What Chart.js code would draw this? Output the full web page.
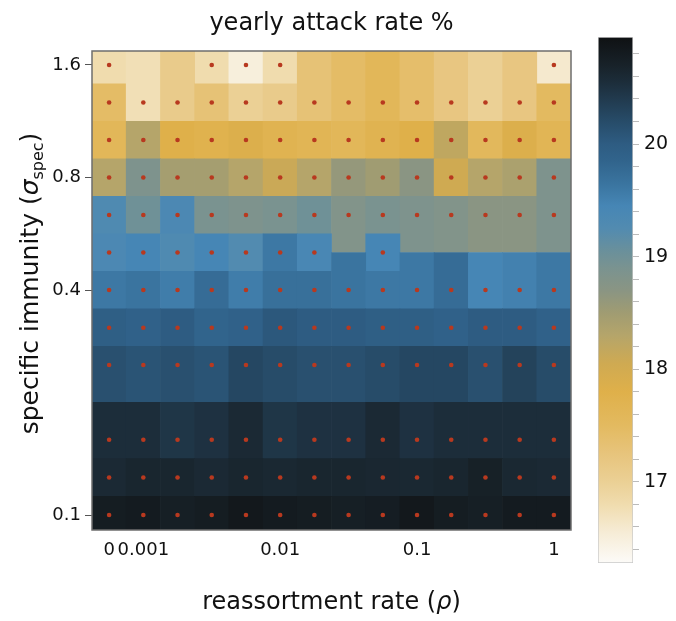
<!DOCTYPE html>
<html>
<head>
<meta charset="utf-8">
<script src="https://cdn.jsdelivr.net/npm/chart.js@4.4.1/dist/chart.umd.min.js"></script>
<style>
  html, body { margin: 0; padding: 0; background: #fff; }
  #wrap { position: relative; width: 676px; height: 621px; }
  #main { position: absolute; left: 0; top: 0; }
  #legendbar { position: absolute; left: 590px; top: 0; }
</style>
</head>
<body>
<div id="wrap">
  <canvas id="main" width="676" height="621"></canvas>
  <canvas id="legendbar" width="86" height="621"></canvas>
</div>
<script>
// reassortment rate (categories, log spaced, plus 0)
var rho = ['0', '0.001', '0.00178', '0.00316', '0.00562', '0.01', '0.0178', '0.0316', '0.0562', '0.1', '0.178', '0.316', '0.562', '1'];
var rhoTicks = ['0', '0.001', '0.01', '0.1', '1'];
// specific immunity rows, bottom to top
var sigma = [0.1, 0.126, 0.159, 0.2, 0.252, 0.317, 0.4, 0.504, 0.635, 0.8, 1.008, 1.27, 1.6];
var sigmaTicks = [0.1, 0.4, 0.8, 1.6];

// yearly attack rate %, one row per sigma (bottom to top), null = no run
var attackRate = [
  [20.78, 20.80, 20.75, 20.78, 20.85, 20.80, 20.78, 20.75, 20.77, 20.85, 20.78, 20.75, 20.80, 20.80],
  [20.60, 20.65, 20.65, 20.60, 20.65, 20.62, 20.65, 20.65, 20.63, 20.62, 20.65, 20.72, 20.62, 20.60],
  [20.55, 20.55, 20.45, 20.50, 20.60, 20.45, 20.50, 20.50, 20.60, 20.50, 20.55, 20.55, 20.55, 20.55],
  [null, null, null, null, null, null, null, null, null, null, null, null, null, null],
  [20.15, 20.10, 20.15, 20.10, 20.25, 20.20, 20.15, 20.15, 20.20, 20.25, 20.25, 20.15, 20.30, 20.20],
  [19.95, 19.90, 20.00, 19.85, 19.90, 20.05, 20.00, 20.00, 19.95, 19.95, 19.90, 20.00, 20.00, 19.90],
  [19.60, 19.65, 19.55, 19.75, 19.55, 19.70, 19.70, 19.65, 19.60, 19.60, 19.75, 19.45, 19.50, 19.60],
  [19.35, 19.45, 19.30, 19.45, 19.25, 19.60, 19.40, null, 19.45, null, null, null, null, null],
  [19.30, 19.00, 19.35, 18.90, 18.85, 18.90, 19.00, 18.80, 18.90, 18.85, 18.80, 18.70, 18.70, 18.85],
  [18.30, 18.85, 18.45, 18.45, 18.30, 18.10, 18.30, 18.60, 18.50, 18.70, 18.05, 18.30, 18.40, 18.85],
  [17.60, 18.30, 17.80, 17.75, 17.85, 17.70, 17.65, 17.60, 17.70, 17.80, 18.20, 17.55, 17.85, 17.65],
  [17.45, 16.75, 17.10, 17.30, 17.00, 17.10, 17.30, 17.45, 17.60, 17.40, 17.20, 17.00, 17.20, 17.50],
  [16.80, null, null, 16.80, 16.50, 16.80, null, null, null, null, null, null, null, 16.60]
];

// colour scale (value -> colour)
var cbValues = [16.28, 16.55, 16.80, 17.00, 17.25, 17.50, 17.80, 18.05, 18.30, 18.50, 18.70, 18.90, 19.05, 19.25, 19.45, 19.65, 19.85, 20.00, 20.20, 20.40, 20.55, 20.70, 20.95];
var cbColors = ['#fcfbf8', '#f6ecd6', '#f0dcae', '#ebd095', '#e7c47c', '#e3ba60', '#dfb04a', '#cfaa52', '#b5a56a', '#a09c72', '#8a9583', '#7a9390', '#6a909b', '#528bb0', '#4686b5', '#3a749f', '#31648c', '#2e5c82', '#274c69', '#213a4e', '#1c2d3a', '#182229', '#0f1113'];
var cbTicks = [17, 18, 19, 20];
var cbMin = 16.28, cbMax = 20.95;

var yMin = 0.0912, yMax = 1.744;
var fontFamily = 'DejaVu Sans';
Chart.defaults.font.family = fontFamily;

function hexToRgb(h) {
  return [parseInt(h.substr(1, 2), 16), parseInt(h.substr(3, 2), 16), parseInt(h.substr(5, 2), 16)];
}

function colorFor(v) {
  if (v <= cbValues[0]) return cbColors[0];
  for (var i = 1; i < cbValues.length; i++) {
    if (v <= cbValues[i]) {
      var t = (v - cbValues[i - 1]) / (cbValues[i] - cbValues[i - 1]);
      var a = hexToRgb(cbColors[i - 1]), b = hexToRgb(cbColors[i]);
      return 'rgb(' + Math.round(a[0] + (b[0] - a[0]) * t) + ',' + Math.round(a[1] + (b[1] - a[1]) * t) + ',' + Math.round(a[2] + (b[2] - a[2]) * t) + ')';
    }
  }
  return cbColors[cbColors.length - 1];
}

// each cell reaches halfway (in log space) to the next sampled row of its column
function cellRange(k, c) {
  var below = -1, above = -1, j;
  for (j = k - 1; j >= 0; j--) if (attackRate[j][c] != null) { below = j; break; }
  for (j = k + 1; j < sigma.length; j++) if (attackRate[j][c] != null) { above = j; break; }
  var lo = below < 0 ? yMin : Math.sqrt(sigma[below] * sigma[k]);
  var hi = above < 0 ? yMax : Math.sqrt(sigma[above] * sigma[k]);
  return [lo, hi];
}

var datasets = [];
var dots = [];
for (var k = 0; k < sigma.length; k++) {
  var cells = [], colors = [];
  for (var c = 0; c < rho.length; c++) {
    var v = attackRate[k][c];
    if (v == null) continue;
    cells.push({ x: rho[c], y: cellRange(k, c) });
    colors.push(colorFor(v));
    dots.push({ x: rho[c], y: sigma[k] });
  }
  if (cells.length) {
    datasets.push({ type: 'bar', data: cells, backgroundColor: colors, borderWidth: 0, order: 1 });
  }
}
datasets.push({
  type: 'scatter', data: dots, order: 0,
  pointRadius: 2.3, pointHoverRadius: 2.3, pointBorderWidth: 0,
  pointBackgroundColor: '#b8391f', backgroundColor: '#b8391f'
});

function drawPieces(ctx, pieces, cx, cy) {
  var total = 0;
  pieces.forEach(function (p) { ctx.font = p.font; total += ctx.measureText(p.text).width; });
  var x = cx - total / 2;
  pieces.forEach(function (p) {
    ctx.font = p.font;
    ctx.fillText(p.text, x, cy + (p.dy || 0));
    x += ctx.measureText(p.text).width;
  });
}

var textPlugin = {
  id: 'texts',
  afterDatasetsDraw: function (chart) {
    var a = chart.chartArea, ctx = chart.ctx;
    ctx.save();
    ctx.strokeStyle = '#6e6e6e';
    ctx.lineWidth = 1.5;
    ctx.strokeRect(a.left, a.top, a.right - a.left, a.bottom - a.top);
    ctx.restore();
  },
  afterDraw: function (chart) {
    var a = chart.chartArea, ctx = chart.ctx;
    var mid = (a.left + a.right) / 2;
    ctx.save();
    ctx.fillStyle = '#111';
    ctx.textBaseline = 'alphabetic';
    ctx.textAlign = 'left';
    drawPieces(ctx, [{ text: 'yearly attack rate %', font: '24px ' + fontFamily }], mid, 30);
    drawPieces(ctx, [
      { text: 'reassortment rate (', font: '24px ' + fontFamily },
      { text: 'ρ', font: 'italic 24px ' + fontFamily },
      { text: ')', font: '24px ' + fontFamily }
    ], mid, 609);
    ctx.translate(38, (a.top + a.bottom) / 2 - 7);
    ctx.rotate(-Math.PI / 2);
    drawPieces(ctx, [
      { text: 'specific immunity (', font: '25px ' + fontFamily },
      { text: 'σ', font: 'italic 25px ' + fontFamily },
      { text: 'spec', font: '16px ' + fontFamily, dy: 5 },
      { text: ')', font: '25px ' + fontFamily }
    ], 0, 0);
    ctx.restore();
  }
};

new Chart(document.getElementById('main'), {
  type: 'bar',
  data: { labels: rho, datasets: datasets },
  options: {
    responsive: false,
    animation: false,
    layout: { padding: { top: 51, right: 105, left: 0, bottom: 0 } },
    datasets: { bar: { grouped: false, barPercentage: 1, categoryPercentage: 1 } },
    plugins: { legend: { display: false }, tooltip: { enabled: false }, title: { display: false } },
    scales: {
      x: {
        type: 'category',
        offset: true,
        grid: { display: false, drawTicks: false },
        border: { display: false },
        ticks: {
          autoSkip: false, maxRotation: 0, padding: 10, color: '#111',
          font: { size: 18 },
          callback: function (value) {
            var l = this.getLabelForValue(value);
            return rhoTicks.indexOf(l) >= 0 ? l : '';
          }
        },
        afterFit: function (s) { s.height = 91; }
      },
      y: {
        type: 'logarithmic',
        min: yMin, max: yMax,
        afterBuildTicks: function (s) {
          s.ticks = sigmaTicks.map(function (v) { return { value: v }; });
        },
        grid: { drawOnChartArea: false, drawTicks: true, tickLength: 7, color: '#555', tickColor: '#555' },
        border: { display: false },
        ticks: {
          padding: 4, color: '#111', font: { size: 18 },
          callback: function (v) { return String(v); }
        },
        afterFit: function (s) { s.width = 92; }
      }
    }
  },
  plugins: [textPlugin]
});

// colour bar
new Chart(document.getElementById('legendbar'), {
  type: 'bar',
  data: {
    labels: [''],
    datasets: [{
      data: [[cbMin, cbMax]],
      backgroundColor: function (ctx) {
        var ch = ctx.chart;
        if (!ch.chartArea) return cbColors[0];
        var ys = ch.scales.y;
        var g = ch.ctx.createLinearGradient(0, ys.getPixelForValue(cbMin), 0, ys.getPixelForValue(cbMax));
        for (var i = 0; i < cbValues.length; i++) {
          g.addColorStop((cbValues[i] - cbMin) / (cbMax - cbMin), cbColors[i]);
        }
        return g;
      },
      borderColor: '#c8c8c8', borderWidth: 1, borderSkipped: false,
      barPercentage: 1, categoryPercentage: 1
    }]
  },
  options: {
    responsive: false,
    animation: false,
    layout: { padding: { left: 8, top: 37, bottom: 58, right: 0 } },
    plugins: { legend: { display: false }, tooltip: { enabled: false } },
    scales: {
      x: { display: false },
      y: {
        position: 'right',
        min: cbMin, max: cbMax,
        afterBuildTicks: function (s) {
          var t = [];
          for (var i = 0; i < 23; i++) t.push({ value: Math.round((16.4 + i * 0.2) * 10) / 10 });
          s.ticks = t;
        },
        grid: { drawOnChartArea: false, drawTicks: true, tickLength: 6, tickColor: '#bbb' },
        border: { display: false },
        ticks: {
          autoSkip: false, padding: 5, color: '#111', font: { size: 19 },
          callback: function (v) { return cbTicks.indexOf(v) >= 0 ? String(v) : ''; }
        },
        afterFit: function (s) { s.width = 43; }
      }
    }
  }
});
</script>
</body>
</html>
